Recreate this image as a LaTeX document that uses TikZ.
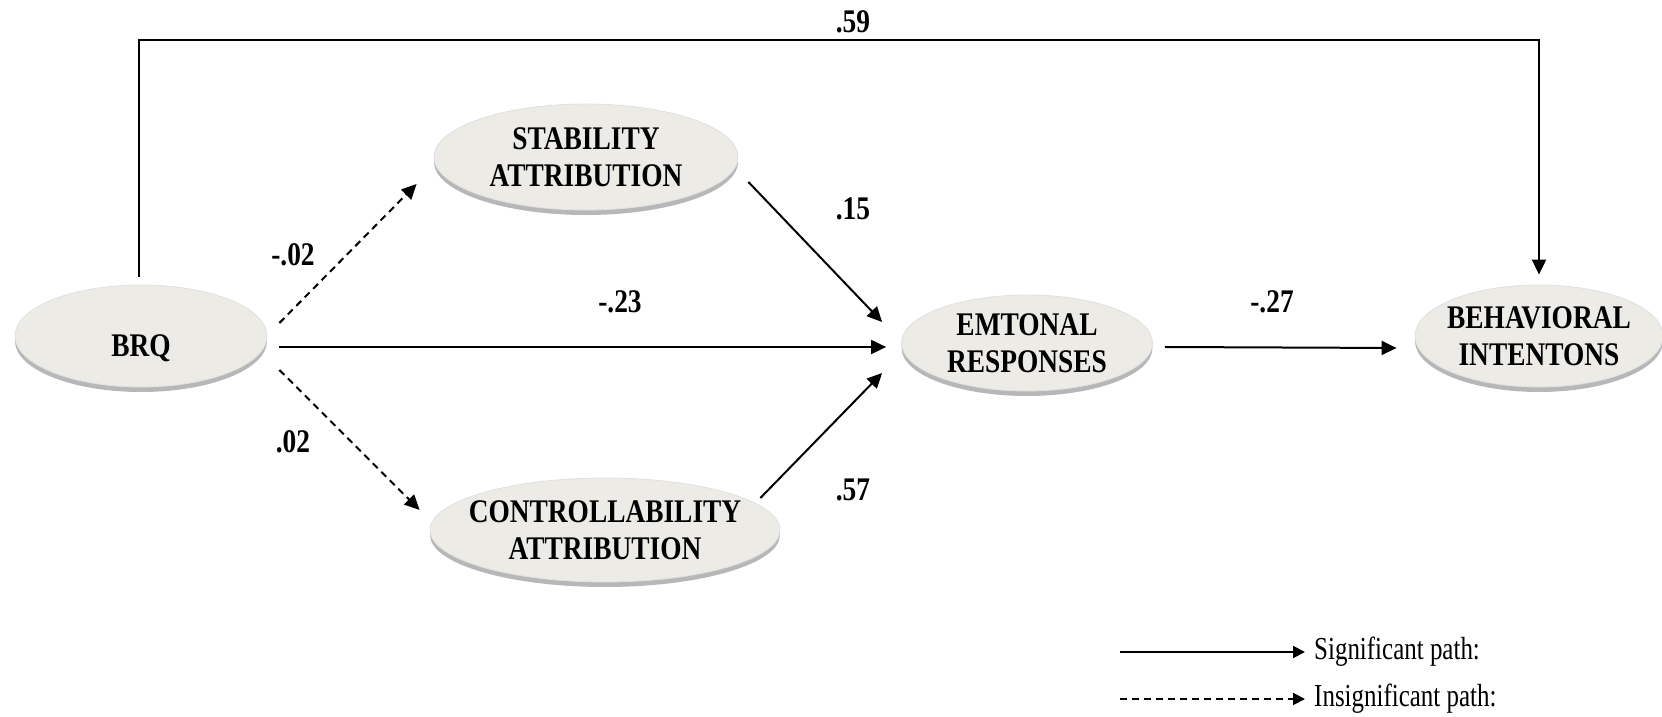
\documentclass[tikz,border=0pt]{standalone}
\usepackage{fontspec}
\setmainfont{Liberation Serif}
\newfontfamily\ovalfont{Liberation Serif}[FakeStretch=0.83]
\newfontfamily\keyfont{Liberation Serif}[FakeStretch=0.78]
\usetikzlibrary{arrows.meta,shapes.geometric,shadows}
\definecolor{ovalfill}{RGB}{237,235,230}
\tikzset{line join=round,
  oval/.style={ellipse,fill=ovalfill,draw=black!12,line width=0.8pt,align=center,
    inner xsep=-40pt,inner ysep=-10pt,
    font=\ovalfont\fontsize{33}{37}\selectfont\bfseries,
    drop shadow={shadow xshift=0pt,shadow yshift=-5pt,fill=black!40,opacity=0.7}},
  coef/.style={font=\ovalfont\fontsize{33}{37}\selectfont\bfseries,inner sep=0pt},
  key/.style={font=\keyfont\fontsize{32}{36}\selectfont,inner sep=0pt,anchor=base west},
  sig/.style={line width=2pt,-{Triangle[length=15pt,width=14pt]}},
  insig/.style={sig,dash pattern=on 7pt off 5pt},
  keyline/.style={line width=2pt,-{Triangle[length=12pt,width=12pt]},shorten >=9pt}
}

\begin{document}
\begin{tikzpicture}[x=1pt,y=1pt]
  \path[use as bounding box] (0,0) rectangle (1662,717);
  % constructs
  \node[oval,minimum width=252pt,minimum height=102pt,text height=42pt,text depth=0pt] (brq) at (141,381) {BRQ};
  \node[oval,minimum width=304pt,minimum height=106pt] (stab) at (586,560) {STABILITY\\ATTRIBUTION};
  \node[oval,minimum width=350pt,minimum height=104pt] (ctrl) at (605,187) {CONTROLLABILITY\\ATTRIBUTION};
  \node[oval,minimum width=251pt,minimum height=96pt] (emot) at (1027,374) {EMTONAL\\RESPONSES};
  \node[oval,minimum width=248pt,minimum height=102pt] (beh) at (1539,381) {BEHAVIORAL\\INTENTONS};
  % paths
  \draw[sig] ([shift={(12,-11)}]brq.east) -- ([shift={(-15,-4)}]emot.west);
  \draw[insig] ([shift={(12,13)}]brq.east) -- ([shift={(-17,-27)}]stab.west);
  \draw[insig] ([shift={(12,-34)}]brq.east) -- ([shift={(-10,20)}]ctrl.west);
  \draw[sig] ([shift={(10,-25)}]stab.east) -- ([shift={(-19,21)}]emot.west);
  \draw[sig] ([shift={(-20,32)}]ctrl.east) -- ([shift={(-19,-30)}]emot.west);
  \draw[sig] ([shift={(12,-4)}]emot.east) -- ([shift={(-18,-12)}]beh.west);
  \draw[sig] ([shift={(-2,8)}]brq.north) |- ([yshift=245pt]beh.north) -- ([yshift=10pt]beh.north);
  % coefficients
  \node[coef] (c59) at (853,695) {.59};
  \node[coef] (c23) at (620,415) {-.23};
  \node[coef] (c02a) at (293,462) {-.02};
  \node[coef] (c02b) at (293,275) {.02};
  \node[coef] (c15) at (853,508) {.15};
  \node[coef] (c57) at (853,227) {.57};
  \node[coef] (c27) at (1272,415) {-.27};
  % legend
  \coordinate (sigstart) at (1120,65);
  \coordinate (insigstart) at (1120,18);
  \node[key] (sigkey) at (1314,57) {Significant path:};
  \node[key] (insigkey) at (1314,10) {Insignificant path:};
  \draw[keyline] (sigstart) -- (sigstart -| sigkey.west);
  \draw[keyline,dash pattern=on 7pt off 5pt] (insigstart) -- (insigstart -| insigkey.west);
\end{tikzpicture}
\end{document}
